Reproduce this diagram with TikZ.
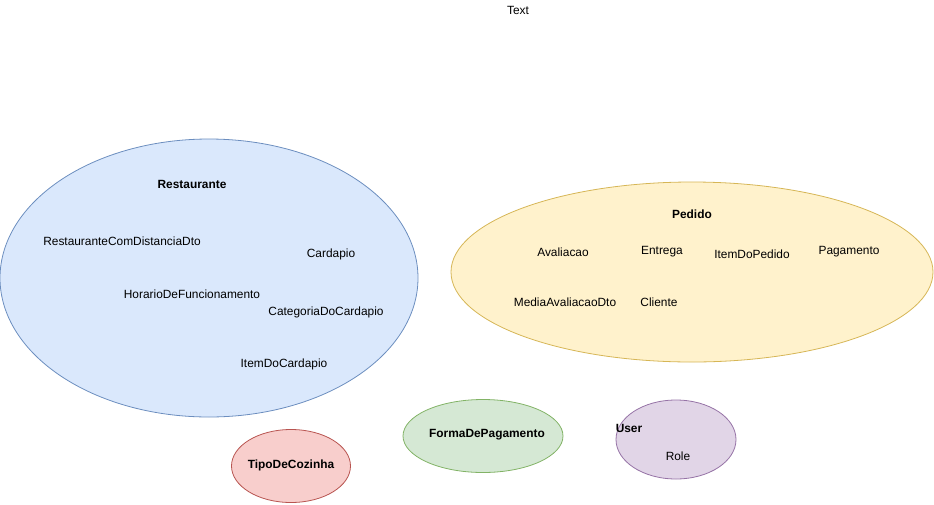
\documentclass[tikz,border=0pt]{standalone}
\usepackage{fontspec}
\setmainfont{Liberation Sans}
\usetikzlibrary{shapes.geometric}
\definecolor{blueFill}{HTML}{DAE8FC}
\definecolor{blueLine}{HTML}{6C8EBF}
\definecolor{yellowFill}{HTML}{FFF2CC}
\definecolor{yellowLine}{HTML}{D6B656}
\definecolor{redFill}{HTML}{F8CECC}
\definecolor{redLine}{HTML}{B85450}
\definecolor{greenFill}{HTML}{D5E8D4}
\definecolor{greenLine}{HTML}{82B366}
\definecolor{purpleFill}{HTML}{E1D5E7}
\definecolor{purpleLine}{HTML}{9673A6}
\tikzset{
    group/.style={ellipse, draw, line width=0.8pt, inner sep=0pt},
    item/.style={font=\fontsize{11.9}{14}\selectfont, inner sep=0pt},
    title/.style={item, font=\fontsize{11.9}{14}\selectfont\bfseries}
}
\begin{document}
\begin{tikzpicture}[x=1pt, y=-1pt]
    \useasboundingbox (0,0) rectangle (934,504);
    \node[item] (text) at (518,10) {Text};
    % ellipses
    \node[group, fill=blueFill, draw=blueLine,
        minimum width=418pt, minimum height=278pt] (restaurante) at (209,278) {};
    \node[group, fill=yellowFill, draw=yellowLine,
        minimum width=482pt, minimum height=180pt] (pedido) at (692,272) {};
    \node[group, fill=redFill, draw=redLine,
        minimum width=119pt, minimum height=73pt] (tipo) at (291,466) {};
    \node[group, fill=greenFill, draw=greenLine,
        minimum width=160pt, minimum height=73pt] (forma) at (483,436) {};
    \node[group, fill=purpleFill, draw=purpleLine,
        minimum width=120pt, minimum height=79pt] (user) at (676,439.5) {};
    % restaurante
    \node[title] (restauranteT) at (192,184) {Restaurante};
    \node[item] (comDistancia) at (122,241) {RestauranteComDistanciaDto};
    \node[item] (cardapio) at (331,254) {Cardapio};
    \node[item] (horario) at (192,294) {HorarioDeFuncionamento};
    \node[item] (categoria) at (326,312) {CategoriaDoCardapio};
    \node[item] (itemCardapio) at (284,364) {ItemDoCardapio};
    % pedido
    \node[title] (pedidoT) at (692,214) {Pedido};
    \node[item] (avaliacao) at (563,252) {Avaliacao};
    \node[item] (entrega) at (662,252) {Entrega};
    \node[item] (itemPedido) at (752,254) {ItemDoPedido};
    \node[item] (pagamento) at (849,252) {Pagamento};
    \node[item] (media) at (565,302) {MediaAvaliacaoDto};
    \node[item] (cliente) at (659,302) {Cliente};
    % outros
    \node[title] (tipoT) at (291,465) {TipoDeCozinha};
    \node[title] (formaT) at (487,435) {FormaDePagamento};
    \node[title] (userT) at (629,428) {User};
    \node[item] (role) at (678,456) {Role};
\end{tikzpicture}
\end{document}
